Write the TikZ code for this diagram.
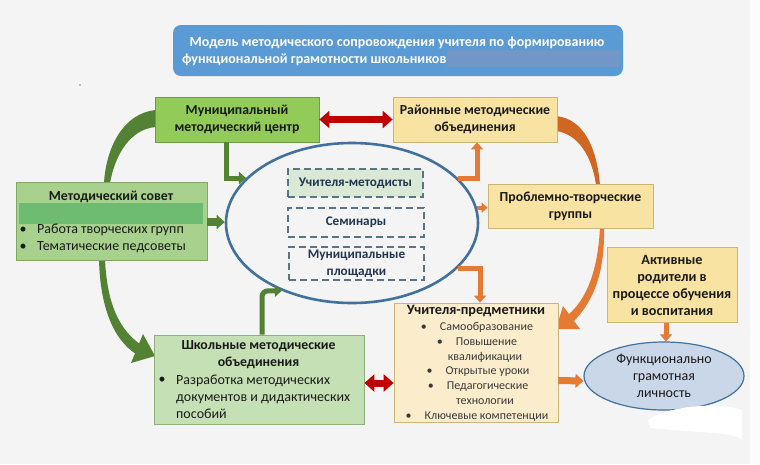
\documentclass[tikz,border=0pt]{standalone}
\usepackage{fontspec}
\setmainfont{Carlito}
\usetikzlibrary{arrows.meta,shapes.geometric}
\definecolor{bg}{HTML}{F3F4F3}
\definecolor{titlefill}{HTML}{5B9BD5}
\definecolor{titlehide}{HTML}{7296C6}
\definecolor{mcfill}{HTML}{92CB58}
\definecolor{mcborder}{HTML}{6E9E42}
\definecolor{msfill}{HTML}{A9D18E}
\definecolor{msborder}{HTML}{7FA867}
\definecolor{msbar}{HTML}{6DBC72}
\definecolor{shfill}{HTML}{C5E0B4}
\definecolor{shborder}{HTML}{8DB07C}
\definecolor{yfill}{HTML}{F9E3A3}
\definecolor{yborder}{HTML}{CDB575}
\definecolor{tfill}{HTML}{FBEDCC}
\definecolor{gdark}{HTML}{548235}
\definecolor{orng}{HTML}{E47A34}
\definecolor{orngdark}{HTML}{CF6722}
\definecolor{redarr}{HTML}{C00000}
\definecolor{ellblue}{HTML}{41719C}
\definecolor{dashc}{HTML}{5A7483}
\definecolor{umfill}{HTML}{DAE8D6}
\definecolor{navytext}{HTML}{22364F}
\definecolor{persfill}{HTML}{CAD7E9}
\definecolor{txt}{HTML}{1A1A1A}
\definecolor{txtgray}{HTML}{3A3A3A}
\tikzset{
  boxbase/.style={line width=0.8pt, inner sep=0pt, align=center, text=txt,
    font=\fontsize{13.8}{17}\selectfont\bfseries},
  greenbox/.style={boxbase, draw=mcborder, fill=mcfill},
  councilbox/.style={boxbase, draw=msborder, fill=msfill},
  schoolbox/.style={boxbase, draw=shborder, fill=shfill},
  yellowbox/.style={boxbase, draw=yborder, fill=yfill},
  teachbox/.style={boxbase, draw=yborder, fill=tfill},
  dashbox/.style={draw=dashc, dash pattern=on 7pt off 4pt, line width=1.5pt, inner sep=0pt,
    align=center, text=navytext, font=\fontsize{13.2}{17}\selectfont\bfseries},
  plain/.style={inner sep=0pt, text=txt, font=\fontsize{14}{17}\selectfont},
  plainb/.style={inner sep=0pt, text=txt, font=\fontsize{13.8}{17}\selectfont\bfseries},
  small/.style={inner sep=0pt, text=txtgray, font=\fontsize{12}{15}\selectfont},
  garr/.style={draw=gdark, line width=5pt, -{Triangle[width=12pt,length=7pt]}},
  garrthick/.style={draw=gdark, line width=8pt, -{Triangle[width=14pt,length=8pt]}},
  oarr/.style={draw=orng, line width=5pt, -{Triangle[width=12pt,length=7pt]}},
  oarrthick/.style={draw=orng, line width=7pt, -{Triangle[width=14pt,length=8pt]}},
  reddbl/.style={draw=redarr, line width=7pt, {Triangle[width=17pt,length=10pt]}-{Triangle[width=17pt,length=10pt]}},
}
\begin{document}
\begin{tikzpicture}[x=1pt,y=-1pt]
\useasboundingbox (0,0) rectangle (760,464);
\fill[bg] (0,0) rectangle (760,464);
\fill[white!70!bg] (750,0) rectangle (760,464);

% title
\node[fill=titlefill, rounded corners=8pt, minimum width=450pt, minimum height=51pt, inner sep=0pt] (title) at (398,50.5) {};
\fill[titlehide] (447,50) rectangle (620,67);
\node[inner sep=0pt, text=white, font=\fontsize{14}{17}\selectfont\bfseries] (t1) at (397,43) {Модель методического сопровождения учителя по формированию};
\node[inner sep=0pt, text=white, font=\fontsize{14}{17}\selectfont\bfseries, anchor=west] (t2) at (182,59.5) {функциональной грамотности школьников};
\fill[black] (80,85) circle (0.7pt);

% curved bands (drawn first, under boxes)
\fill[gdark] (156,110) .. controls (123,113) and (106,148) .. (104,183)
  -- (110,183) .. controls (115,155) and (130,129) .. (156,127) -- cycle;
\fill[gdark] (99,259) .. controls (100,308) and (114,340) .. (136,354)
  -- (140,344) .. controls (120,330) and (107,305) .. (105,259) -- cycle;
\fill[gdark] (155,356) -- (143,334) -- (131,363) -- cycle;
\fill[orngdark] (556,116) .. controls (585,119) and (597,150) .. (600,185)
  -- (596,185) .. controls (592,156) and (578,134) .. (556,131) -- cycle;
\fill[orng] (604,227) .. controls (605,270) and (595,300) .. (573,322)
  -- (568,315) .. controls (588,298) and (598,268) .. (600,227) -- cycle;
\fill[orng] (556,329) -- (580,329) -- (563,306) -- cycle;

% boxes
\node[greenbox, minimum width=164pt, minimum height=45pt] (muni) at (237,119.5) {Муниципальный\\методический центр};
\node[yellowbox, minimum width=164pt, minimum height=45pt] (district) at (475,119.5) {Районные методические\\объединения};
\node[councilbox, minimum width=191pt, minimum height=78pt] (council) at (111.5,221) {};
\fill[msbar] (19,203) rectangle (203,224);
\node[plainb] (ctitle) at (111,196.5) {Методический совет};
\node[plain] (cb1) at (23,230) {•};
\node[plain, anchor=west] (ct1) at (37,230) {Работа творческих групп};
\node[plain] (cb2) at (23,247) {•};
\node[plain, anchor=west] (ct2) at (37,247) {Тематические педсоветы};

\node[draw=ellblue, line width=2.6pt, ellipse, minimum width=252pt, minimum height=160pt, inner sep=0pt] (ell) at (352,223) {};
\node[dashbox, fill=umfill, minimum width=135pt, minimum height=28pt] (um) at (355.5,183) {Учителя-методисты};
\node[dashbox, minimum width=136pt, minimum height=29pt] (sem) at (356,222.5) {Семинары};
\node[dashbox, minimum width=135pt, minimum height=33pt] (mp) at (356.5,263.5) {Муниципальные\\площадки};

\node[yellowbox, minimum width=165pt, minimum height=44pt] (problem) at (570.5,206) {Проблемно-творческие\\группы};
\node[yellowbox, minimum width=130pt, minimum height=75pt, font=\fontsize{14.2}{17}\selectfont\bfseries] (parents) at (672,285) {Активные\\родители в\\процессе обучения\\и воспитания};
\node[draw=ellblue, line width=1.2pt, fill=persfill, ellipse, minimum width=160pt, minimum height=68pt, inner sep=0pt,
  align=center, text=txt, font=\fontsize{14}{17}\selectfont] (pers) at (664,376) {Функционально\\грамотная\\личность};

\node[teachbox, minimum width=164pt, minimum height=119pt] (teach) at (476,362.5) {};
\node[plainb, font=\fontsize{14.3}{17}\selectfont\bfseries] (tt) at (476,311) {Учителя-предметники};
\node[small] (l1) at (477,327) {•\hspace{13pt}Самообразование};
\node[small] (l2) at (477,342) {•\hspace{13pt}Повышение};
\node[small] (l3) at (485,357) {квалификации};
\node[small] (l4) at (478,372) {•\hspace{13pt}Открытые уроки};
\node[small] (l5) at (478,387) {•\hspace{13pt}Педагогические};
\node[small] (l6) at (485,402) {технологии};
\node[small] (l7) at (477,417) {•\hspace{13pt}Ключевые компетенции};

\node[schoolbox, minimum width=210pt, minimum height=89pt] (school) at (259,379.5) {};
\node[plainb, align=center] (stitle) at (258.5,354.5) {Школьные методические\\объединения};
\node[plain] (sb) at (162,380) {•};
\node[plain, anchor=west, align=left] (st) at (176,397) {Разработка методических\\документов и дидактических\\пособий};

% connectors
\draw[reddbl] (muni.east) -- (district.west);
\draw[garr] ([xshift=-11pt]muni.south) |- (ell.157);
\draw[garrthick] ([yshift=-1pt]council.east) -- ([yshift=-1pt]council.east -| ell.west);
\draw[garr, rounded corners=6pt] ([xshift=3pt]school.north) |- (ell.224);
\draw[oarr] (ell.23) -| ([xshift=2pt]district.south);
\draw[draw=orng, line width=4pt, -{Triangle[width=10pt,length=6pt]}] (ell.7) -- (ell.7 -| problem.west);
\draw[oarr] (ell.337) -| ([xshift=4pt]teach.north);
\draw[oarr] ([xshift=-6pt]parents.south) -- ([xshift=2pt]pers.north);
\draw[oarrthick] ([yshift=-18pt]teach.east) -- ([yshift=-5pt]pers.west);
\draw[reddbl] ([yshift=-3.5pt]school.east) -- ([yshift=-3.5pt]school.east -| teach.west);

% white smudge
\fill[white] (648,420) .. controls (670,405) and (720,402) .. (742,410)
  -- (742,440) .. controls (735,432) and (700,433) .. (650,428) -- cycle;
\end{tikzpicture}
\end{document}
